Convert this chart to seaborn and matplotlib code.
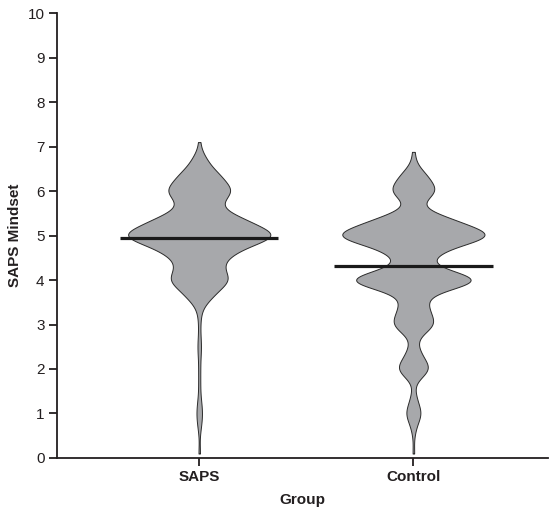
import numpy as np
import pandas as pd
import matplotlib
matplotlib.use("Agg")
import matplotlib.pyplot as plt
import seaborn as sns

# scores and how many participants had each score
saps_values = [0.1, 0.67, 0.83, 1.0, 1.17, 1.33, 1.67, 2.0, 2.33, 2.5, 2.67, 3.0,
               3.33, 3.67, 4.0, 4.33, 4.67, 5.0, 5.33, 5.67, 6.0, 6.33, 6.67, 7.1]
saps_counts = [1, 1, 1, 2, 1, 1, 1, 1, 1, 1, 1, 1,
               2, 14, 31, 21, 36, 80, 46, 17, 34, 21, 8, 1]

control_values = [0.1, 0.67, 1.0, 1.33, 2.0, 2.33, 2.67, 3.0, 3.33, 3.67, 4.0,
                  4.33, 4.67, 5.0, 5.33, 5.67, 6.0, 6.33, 6.67, 6.88]
control_counts = [1, 2, 8, 3, 17, 7, 2, 21, 14, 11, 70,
                  12, 25, 78, 38, 3, 23, 13, 1, 1]

groups = ["SAPS", "Control"]

df = pd.DataFrame({
    "Group": ["SAPS"] * sum(saps_counts) + ["Control"] * sum(control_counts),
    "SAPS Mindset": np.concatenate([np.repeat(saps_values, saps_counts),
                                    np.repeat(control_values, control_counts)]),
})

BW = 0.2  # kernel bandwidth in score units


def fixed_bw(kde):
    return BW / kde.dataset.std(ddof=1)


sns.set_style("ticks")
plt.rcParams["font.family"] = ["Liberation Sans", "DejaVu Sans"]

fig = plt.figure(figsize=(5.52, 5.12), dpi=100)
ax = fig.add_axes([0.1033, 0.1055, 0.890, 0.869])

sns.violinplot(data=df, x="Group", y="SAPS Mindset", order=groups, ax=ax,
               inner=None, cut=0, density_norm="width", width=0.664,
               bw_method=fixed_bw, gridsize=600,
               color="#a7a8ab", linecolor="#2b2b2b", linewidth=0.7, saturation=1)

# mean line per group
means = df.groupby("Group")["SAPS Mindset"].mean().reindex(groups)
pos = np.arange(len(groups))
ax.hlines(means.values, pos - 0.37, pos + 0.37, color="#1a1a1a", linewidth=2.3, zorder=5)

ax.set_ylim(0, 10)
ax.set_yticks(range(0, 11))
ax.set_xlim(-0.664, 1.63)
sns.despine(ax=ax)
for s in ["left", "bottom"]:
    ax.spines[s].set_linewidth(1.3)
    ax.spines[s].set_color("#231f20")
ax.tick_params(axis="both", direction="out", length=6, width=1.3, color="#231f20",
               labelsize=11, labelcolor="#231f20", pad=3)
for lab in ax.get_xticklabels():
    lab.set_fontweight("bold")
ax.set_xlabel("Group", fontsize=11, fontweight="bold", color="#231f20", labelpad=6)
ax.set_ylabel("SAPS Mindset", fontsize=11, fontweight="bold", color="#231f20", labelpad=4)

fig.savefig("out.png", dpi=100)
